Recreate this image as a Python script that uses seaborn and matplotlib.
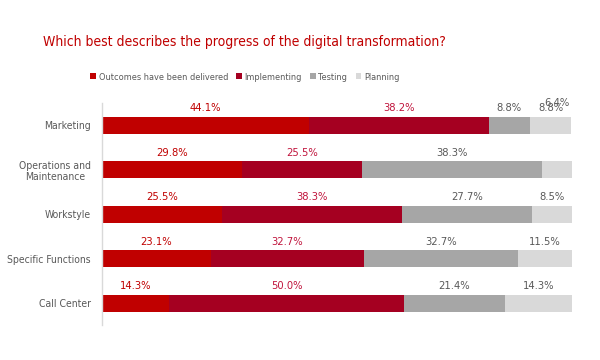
import matplotlib
matplotlib.use("Agg")
import matplotlib.pyplot as plt
from matplotlib.patches import Patch
import seaborn as sns
import pandas as pd
import numpy as np

categories = ["Marketing", "Operations and\nMaintenance", "Workstyle", "Specific Functions", "Call Center"]
series = ["Outcomes have been delivered", "Implementing", "Testing", "Planning"]
outcomes = [44.1, 29.8, 25.5, 23.1, 14.3]
implementing = [38.2, 25.5, 38.3, 32.7, 50.0]
testing = [8.8, 38.3, 27.7, 32.7, 21.4]
planning = [8.8, 6.4, 8.5, 11.5, 14.3]

colors = ["#C00000", "#A50021", "#A6A6A6", "#D9D9D9"]
label_colors = ["#C00000", "#C0143C", "#595959", "#595959"]

sns.set_theme(style="white")
plt.rcParams['font.family'] = ['DejaVu Sans']
plt.rcParams['font.stretch'] = 'condensed'

fig = plt.figure(figsize=(6, 3.6), dpi=100)
ax = fig.add_axes([0.17, 0.096, 0.783, 0.618])

vals = np.array([outcomes, implementing, testing, planning])
cum = np.cumsum(vals, axis=0)

for k in range(3, -1, -1):
    df = pd.DataFrame({"cat": categories, "v": cum[k]})
    sns.barplot(data=df, x="v", y="cat", orient="h", color=colors[k],
                width=0.38, ax=ax, saturation=1, linewidth=0)

for k in range(4):
    for i in range(len(categories)):
        v = vals[k, i]
        xc = cum[k, i] - v / 2
        y = i - 0.38
        if k == 3 and i == 1:
            y = 0 - 0.5
        ax.text(xc, y, f"{v:.1f}%", ha="center", va="center",
                fontsize=8, color=label_colors[k], fontstretch="condensed")

ax.set_xlim(0, 100)
ax.set_ylim(4.5, -0.5)
ax.set_xlabel("")
ax.set_ylabel("")
ax.set_xticks([])
ax.tick_params(axis="y", length=0, labelsize=7.5, labelcolor="#595959", pad=8)
for t in ax.get_yticklabels():
    t.set_horizontalalignment("right")
    t.set_multialignment("center")
    t.set_fontstretch("condensed")
for s in ["top", "right", "bottom"]:
    ax.spines[s].set_visible(False)
ax.spines["left"].set_color("#D9D9D9")
ax.spines["left"].set_linewidth(1)

fig.text(0.072, 0.882, "Which best describes the progress of the digital transformation?",
         fontsize=10, color="#C00000", ha="left", va="center", fontstretch="condensed")

handles = [Patch(facecolor=c, edgecolor="none") for c in colors]
fig.legend(handles, series, loc="center", bbox_to_anchor=(0.408, 0.786), ncol=4,
           frameon=False, handlelength=0.6, handleheight=0.6,
           handletextpad=0.3, columnspacing=0.9, labelcolor="#595959",
           prop={"size": 6.6, "stretch": "condensed"})

fig.savefig("out.png", dpi=100, facecolor="white")
